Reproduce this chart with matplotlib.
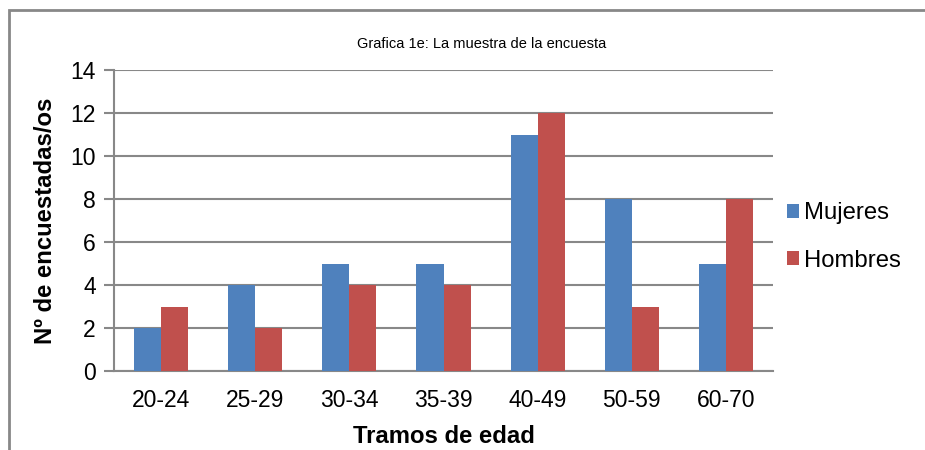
import matplotlib
matplotlib.use("Agg")
import matplotlib.pyplot as plt
import numpy as np
from matplotlib.patches import Rectangle

categories = ["20-24", "25-29", "30-34", "35-39", "40-49", "50-59", "60-70"]
mujeres = [2, 4, 5, 5, 11, 8, 5]
hombres = [3, 2, 4, 4, 12, 3, 8]
series_names = ["Mujeres", "Hombres"]
yticks = [0, 2, 4, 6, 8, 10, 12, 14]

plt.rcParams["font.family"] = ["Liberation Sans", "DejaVu Sans"]

W, H = 925, 450
fig = plt.figure(figsize=(W / 100, H / 100), dpi=100)
ax = fig.add_axes([114 / W, 1 - 371 / H, (773 - 114) / W, (371 - 70) / H])

grid_c = "#888888"
blue = "#4f81bd"
red = "#c0504d"

x = np.arange(len(categories))
bw = 0.287
ax.bar(x - bw / 2, mujeres, bw, color=blue, label=series_names[0], zorder=3)
ax.bar(x + bw / 2, hombres, bw, color=red, label=series_names[1], zorder=3)

ax.set_xlim(-0.5, len(categories) - 0.5)
ax.set_ylim(0, 14)
ax.set_yticks(yticks)
ax.set_xticks(x)
ax.set_xticklabels(categories)
ax.yaxis.grid(True, color=grid_c, linewidth=1.5, zorder=0)
ax.set_axisbelow(True)
for s in ["top", "right"]:
    ax.spines[s].set_visible(False)
for s in ["left", "bottom"]:
    ax.spines[s].set_color(grid_c)
    ax.spines[s].set_linewidth(1.5)
ax.tick_params(axis="y", length=7, width=1.5, color=grid_c, labelsize=16.5, pad=6)
ax.tick_params(axis="x", length=0, labelsize=16.5, pad=13)

ax.set_ylabel("Nº de encuestadas/os", fontsize=17.2, fontweight="bold", labelpad=10)
ax.set_xlabel("Tramos de edad", fontsize=17.2, fontweight="bold", labelpad=9)

fig.text(482 / W, 1 - 44 / H, "Grafica 1e: La muestra de la encuesta",
         ha="center", va="center", fontsize=10.5)

leg = ax.legend(loc="center left", bbox_to_anchor=(777.6 / W, 1 - 237 / H),
                bbox_transform=fig.transFigure, borderaxespad=0, borderpad=0.4,
                frameon=False, fontsize=17.2, handlelength=0.49, handleheight=0.49,
                handletextpad=0.21, labelspacing=1.06)

# outer chart frame
fig.patches.append(Rectangle((9 / W, -0.1), 1.2, 1 - 10 / H + 0.1,
                             transform=fig.transFigure, fill=False,
                             edgecolor="#888888", linewidth=2))

fig.savefig("out.png", dpi=100)
